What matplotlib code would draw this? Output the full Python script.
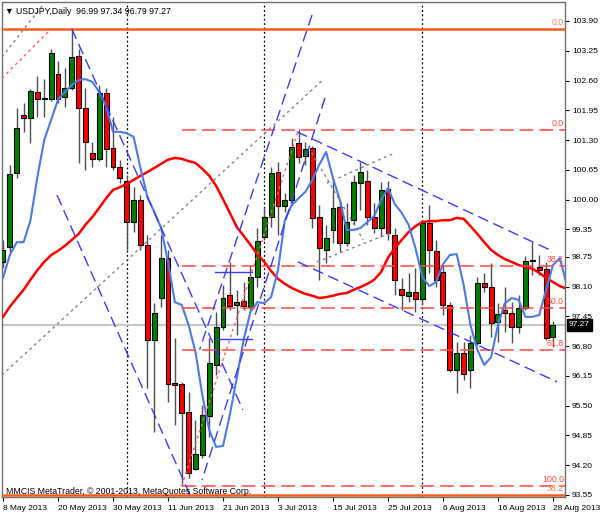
import matplotlib
matplotlib.use("Agg")
import matplotlib.pyplot as plt
import numpy as np
from matplotlib.transforms import blended_transform_factory

# ---------------- data (USDJPY daily, 8 May 2013 - 28 Aug 2013) ----------------
opens = [98.64, 98.97, 100.58, 101.85, 101.78, 102.35, 102.22, 102.20, 102.74, 102.24,
         102.44, 103.14, 102.00, 101.02, 100.89, 102.33, 101.13, 100.71, 100.41, 99.51,
         99.99, 99.01, 96.94, 97.85, 98.73, 95.99, 95.97, 95.36, 94.12, 94.42,
         95.28, 96.39, 97.22, 97.92, 97.70, 97.79, 97.66, 98.31, 99.18, 99.62,
         100.60, 99.86, 99.99, 101.24, 100.95, 101.13, 99.62, 98.90, 99.34, 99.84,
         99.05, 99.55, 100.36, 100.41, 99.62, 99.38, 100.23, 99.23, 98.05, 97.90,
         97.98, 97.83, 99.49, 98.88, 98.42, 97.70, 96.28, 96.65, 96.28, 96.87,
         98.18, 98.09, 97.33, 97.59, 97.52, 97.22, 97.63, 98.66, 98.53, 98.49,
         96.99]
highs = [99.12, 100.76, 102.00, 102.11, 102.42, 102.70, 102.63, 103.29, 103.03, 102.87,
         103.73, 103.29, 102.44, 101.26, 102.50, 102.44, 101.80, 100.87, 100.54, 100.28,
         100.10, 99.23, 97.74, 99.23, 98.90, 96.98, 96.02, 95.80, 95.19, 95.52,
         96.98, 97.55, 98.14, 98.64, 98.03, 98.20, 98.57, 99.38, 99.82, 100.71,
         100.82, 100.14, 101.34, 101.54, 101.26, 101.17, 99.88, 99.45, 100.43, 99.99,
         99.93, 100.54, 100.82, 100.65, 99.93, 100.38, 100.41, 99.38, 98.29, 98.40,
         98.51, 99.55, 99.88, 99.12, 98.57, 97.76, 96.89, 96.89, 97.04, 98.31,
         98.40, 98.62, 97.74, 98.09, 97.76, 97.92, 98.77, 99.07, 98.79, 98.64,
         97.34]
lows = [98.51, 98.86, 100.47, 101.48, 101.24, 101.80, 101.80, 102.15, 102.11, 102.02,
        102.39, 100.80, 100.65, 100.71, 100.84, 100.71, 100.65, 100.36, 98.90, 99.29,
        98.90, 95.89, 94.93, 97.66, 95.58, 95.08, 93.75, 93.92, 94.10, 94.36,
        94.82, 96.17, 97.15, 97.59, 97.04, 97.59, 97.59, 98.09, 99.12, 99.40,
        99.23, 99.73, 99.88, 100.80, 100.76, 99.38, 98.25, 98.62, 99.05, 98.86,
        98.99, 99.45, 99.77, 99.45, 99.27, 99.18, 99.12, 97.92, 97.59, 97.76,
        97.55, 97.70, 98.40, 98.09, 97.48, 96.24, 95.78, 96.06, 95.89, 96.83,
        97.98, 97.00, 96.89, 97.11, 96.87, 97.09, 97.59, 98.35, 98.35, 96.94,
        96.79]
closes = [98.90, 100.56, 101.56, 101.78, 102.37, 102.20, 102.20, 103.20, 102.20, 102.44,
          103.11, 102.00, 101.26, 100.89, 102.33, 101.10, 100.71, 100.47, 99.51, 99.99,
          99.01, 96.94, 97.52, 98.73, 95.97, 95.95, 95.34, 94.03, 94.45, 95.30,
          96.43, 97.22, 97.85, 97.68, 97.76, 97.68, 98.31, 99.10, 99.62, 100.58,
          99.86, 99.99, 101.15, 100.93, 101.10, 99.60, 98.94, 99.16, 99.82, 99.05,
          99.51, 100.38, 100.60, 99.62, 99.38, 100.21, 99.27, 98.25, 97.92, 97.98,
          97.83, 99.49, 98.90, 98.25, 97.70, 96.28, 96.65, 96.19, 96.87, 98.18,
          98.09, 97.31, 97.50, 97.52, 97.22, 97.63, 98.66, 98.67, 98.46, 96.98,
          97.27]

# fast (shifted) moving average, blue
ma_fast = [98.29, 98.79, 99.07, 99.07, 99.55, 100.49, 101.30, 101.74, 102.18, 102.35,
           102.50, 102.61, 102.63, 102.57, 102.35, 102.04, 101.48, 101.48, 101.45, 101.37,
           100.69, 100.06, 99.73, 99.38, 98.64, 97.76, 97.70, 97.26, 96.67, 95.73,
           94.97, 94.60, 94.62, 95.30, 96.10, 96.94, 97.55, 97.76, 97.74, 97.87,
           98.46, 99.55, 99.88, 100.03, 100.17, 100.43, 100.76, 101.04, 100.47, 99.99,
           99.34, 99.34, 99.38, 99.51, 99.64, 99.99, 100.25, 99.90, 99.71, 99.45,
           98.94, 98.31, 98.11, 98.20, 98.59, 98.79, 98.81, 98.14, 97.26, 96.72,
           96.39, 96.56, 97.26, 97.74, 97.85, 97.81, 97.44, 97.44, 97.48, 98.03,
           98.57, 98.72, 98.14]
# slow (shifted) moving average, red
ma_slow = [97.44, 97.66, 97.85, 98.03, 98.25, 98.46, 98.64, 98.79, 98.88, 98.99,
           99.12, 99.25, 99.45, 99.62, 99.82, 100.03, 100.21, 100.27, 100.34, 100.43,
           100.52, 100.60, 100.69, 100.78, 100.87, 100.91, 100.89, 100.84, 100.80, 100.67,
           100.52, 100.30, 100.01, 99.71, 99.40, 99.21, 99.01, 98.81, 98.64, 98.44,
           98.27, 98.16, 98.07, 98.00, 97.94, 97.90, 97.85, 97.87, 97.90, 97.94,
           97.96, 98.03, 98.09, 98.16, 98.25, 98.42, 98.73, 98.94, 99.12, 99.29,
           99.42, 99.51, 99.53, 99.53, 99.55, 99.55, 99.60, 99.58, 99.42, 99.25,
           99.07, 98.90, 98.79, 98.70, 98.64, 98.57, 98.53, 98.49, 98.40, 98.29,
           98.20, 98.11, 98.05]

tick_idx = [0, 8, 16, 24, 32, 40, 48, 56, 64, 72, 80]
tick_labels = ["8 May 2013", "20 May 2013", "30 May 2013", "11 Jun 2013", "21 Jun 2013",
               "3 Jul 2013", "15 Jul 2013", "25 Jul 2013", "6 Aug 2013", "16 Aug 2013",
               "28 Aug 2013"]
price_ticks = [103.90, 103.25, 102.60, 101.95, 101.30, 100.65, 100.00, 99.35, 98.75,
               98.10, 97.45, 96.80, 96.15, 95.50, 94.85, 94.20, 93.55]
separator_idx = [18, 38, 61]   # first bar of Jun, Jul, Aug

# Fibonacci retracement (swing high 8 Jul, swing low 13 Jun)
fib_high, fib_low, fib_start = 101.53, 93.75, 26
fib_levels = [0.0, 38.2, 50.0, 61.8, 100.0]
# orange levels (top / bottom)
orange_levels = [(103.73, "0.0"), (93.55, "38.2")]

# drawn objects: (x1, p1, x2, p2)
blue_dashed = [(10.0, 103.73, 34.9, 95.41),
               (7.85, 100.10, 27.2, 93.55),
               (44.95, 104.03, 28.6, 96.72),
               (46.84, 102.22, 28.95, 93.88),
               (42.76, 101.48, 79.85, 98.88),
               (42.9, 98.64, 80.6, 96.02)]
blue_solid = [(30.8, 98.42, 36.2, 98.42), (31.1, 96.96, 36.2, 96.96)]
gray_dotted = [(-0.15, 96.17, 46.5, 102.61),
               (-0.15, 103.11, 6.1, 104.31),
               (47.1, 100.36, 57.0, 101.02),
               (45.7, 98.64, 56.7, 99.29),
               (44.9, 101.02, 52.4, 99.12)]
red_dotted = [(-0.15, 102.65, 6.84, 103.70), (26, 93.75, 43, 101.53)]

title_text = "\u25bc USDJPY,Daily  96.99 97.34 96.79 97.27"
copyright_text = "MMCIS MetaTrader, \u00a9 2001-2013, MetaQuotes Software Corp."

# ---------------- drawing ----------------
FONT = ["Liberation Sans", "DejaVu Sans"]
plt.rcParams["font.family"] = FONT
GREEN = "#008000"
RED = "#FF0000"
BLUE_MA = "#4A7BEA"
BLUE_OBJ = "#3B3BFF"
FIB_RED = "#FF4848"
ORANGE = "#FF5A1E"

fig = plt.figure(figsize=(6.0, 5.14), dpi=100)
ax = fig.add_axes([2 / 600, 17 / 514, 563 / 600, 495 / 514])
ax.set_xlim(-0.145, 81.75)
ax.set_ylim(93.506, 104.314)
ax.set_facecolor("white")

n = len(opens)
xs = np.arange(n)
o = np.array(opens); c = np.array(closes); h = np.array(highs); l = np.array(lows)

# separators
for s in separator_idx:
    ax.axvline(s, color="black", lw=0.9, ls=(0, (1.5, 2)), zorder=1)

# current price line
ax.axhline(closes[-1], color="#C8C8C8", lw=1.6, zorder=1)

# wicks and bodies
ax.vlines(xs, l, h, color="#505050", lw=1.0, zorder=2)
colors = [GREEN if cc > oo else (RED if cc < oo else "black") for oo, cc in zip(o, c)]
heights = np.abs(c - o)
ax.bar(xs, heights, bottom=np.minimum(o, c), width=0.72, color=colors,
       edgecolor="black", linewidth=0.8, zorder=3)

# moving averages
ax.plot(np.arange(len(ma_slow)), ma_slow, color=RED, lw=1.8, zorder=4)
ax.plot(np.arange(len(ma_fast)), ma_fast, color=BLUE_MA, lw=1.5, zorder=4)

# fib retracement
rng = fib_high - fib_low
trans_lab = blended_transform_factory(ax.transAxes, ax.transData)
for lv in fib_levels:
    p = fib_high - rng * lv / 100.0
    ax.plot([fib_start, 81.75], [p, p], color=FIB_RED, lw=1.1, ls=(0, (9, 4)), zorder=5)
    ax.annotate(f"{lv:.1f}", xy=(0.998, p), xycoords=trans_lab, xytext=(0, 1.2),
                textcoords="offset points", ha="right", va="bottom",
                color=FIB_RED, fontsize=6.3, zorder=8)
for p, lab in orange_levels:
    ax.axhline(p, color=ORANGE, lw=1.8, zorder=5)
    ax.annotate(lab, xy=(0.998, p), xycoords=trans_lab, xytext=(0, 1.2),
                textcoords="offset points", ha="right", va="bottom",
                color="#FF7F50", fontsize=6.3, zorder=8)

for x1, p1, x2, p2 in blue_dashed:
    ax.plot([x1, x2], [p1, p2], color=BLUE_OBJ, lw=1.0, ls=(0, (8, 4)), zorder=5)
for x1, p1, x2, p2 in blue_solid:
    ax.plot([x1, x2], [p1, p2], color=BLUE_OBJ, lw=1.0, zorder=5)
for x1, p1, x2, p2 in gray_dotted:
    ax.plot([x1, x2], [p1, p2], color="#7A8A8A", lw=1.0, ls=(0, (2, 2.5)), zorder=5)
for x1, p1, x2, p2 in red_dotted:
    ax.plot([x1, x2], [p1, p2], color="#FF6060", lw=1.0, ls=(0, (2, 2.5)), zorder=5)

# axes styling
for sp in ax.spines.values():
    sp.set_color("#707070")
    sp.set_linewidth(1.0)
ax.yaxis.tick_right()
ax.set_yticks(price_ticks)
ax.set_yticklabels([f"{v:.2f}" for v in price_ticks])
ax.tick_params(axis="y", direction="out", length=3, width=0.8, pad=2, labelsize=6,
               colors="black")
ax.set_xticks(tick_idx)
ax.set_xticklabels(tick_labels, ha="left")
ax.tick_params(axis="x", direction="out", length=3, width=0.8, pad=3, labelsize=6)
for t in ax.get_xticklabels():
    t.set_horizontalalignment("left")

# current price tag
ax.text(1.0 + 4 / 563, closes[-1], f"{closes[-1]:.2f}", transform=trans_lab,
        ha="left", va="center", color="white", fontsize=6, zorder=10,
        bbox=dict(boxstyle="square,pad=0.3", facecolor="black", edgecolor="black"),
        clip_on=False)

fig.text(5 / 600, 1 - 12 / 514, title_text, fontsize=6.3, va="center", ha="left",
         color="black")
fig.text(6 / 600, 1 - 491 / 514, copyright_text, fontsize=6.3, va="center", ha="left",
         color="black")

fig.savefig("out.png", dpi=100, facecolor="white")
